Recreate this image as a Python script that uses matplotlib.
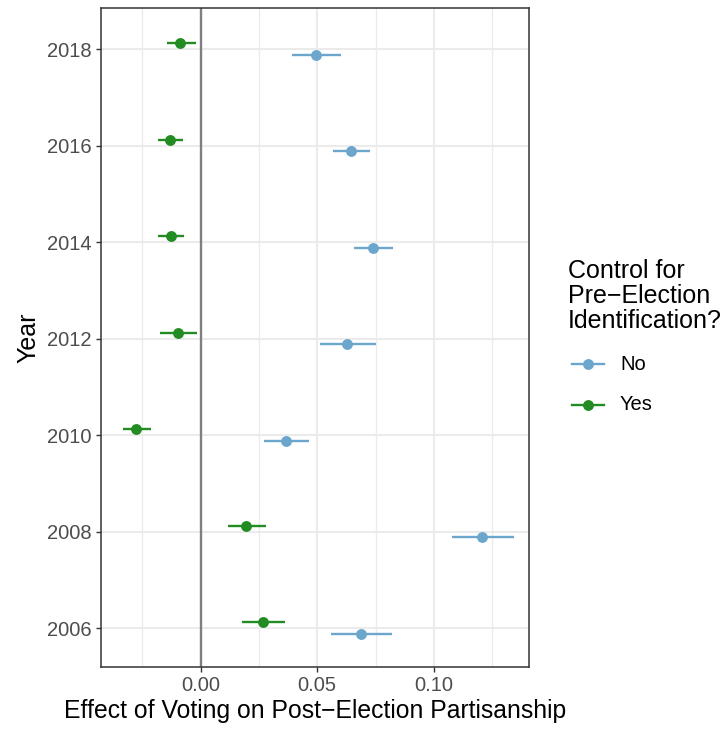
import numpy as np
import matplotlib
matplotlib.use("Agg")
import matplotlib.pyplot as plt
from matplotlib.lines import Line2D

plt.rcParams['font.family'] = ['Liberation Sans', 'DejaVu Sans']

years = ['2006', '2008', '2010', '2012', '2014', '2016', '2018']

# estimates with pre-election identification control ("Yes")
yes_est = [0.0267, 0.0196, -0.0276, -0.0096, -0.0129, -0.0132, -0.0087]
yes_lo = [0.0176, 0.0116, -0.0334, -0.0173, -0.0181, -0.0181, -0.0146]
yes_hi = [0.0361, 0.0282, -0.0213, -0.0014, -0.0070, -0.0076, -0.0021]

# estimates without the control ("No")
no_est = [0.0689, 0.1207, 0.0366, 0.0629, 0.0740, 0.0644, 0.0496]
no_lo = [0.0557, 0.1080, 0.0271, 0.0511, 0.0659, 0.0566, 0.0390]
no_hi = [0.0822, 0.1342, 0.0466, 0.0750, 0.0824, 0.0727, 0.0604]

col_no = '#6CA6CD'
col_yes = '#228B22'

fig = plt.figure(figsize=(7.25, 7.31), dpi=100)
ax = fig.add_axes([101 / 725, 1 - 667 / 731, 428 / 725, 659 / 731])

pos = np.arange(len(years))
dodge = 0.062

ax.axvline(0, color='#7F7F7F', lw=1.7, zorder=2)

for est, lo, hi, col, off in [(no_est, no_lo, no_hi, col_no, -dodge),
                              (yes_est, yes_lo, yes_hi, col_yes, dodge)]:
    y = pos + off
    ax.hlines(y, lo, hi, color=col, lw=1.7, zorder=3)
    ax.plot(est, y, 'o', color=col, ms=6.8, zorder=4)

ax.set_xlim(-0.0427, 0.1408)
ax.set_ylim(-0.404, 6.425)
ax.set_xticks([0.0, 0.05, 0.10])
ax.set_xticklabels(['0.00', '0.05', '0.10'])
ax.set_xticks([-0.025, 0.025, 0.075, 0.125], minor=True)
ax.set_yticks(pos)
ax.set_yticklabels(years)

ax.grid(True, which='major', color='#EBEBEB', lw=1.5, zorder=0)
ax.grid(True, which='minor', axis='x', color='#EBEBEB', lw=0.9, zorder=0)
ax.set_axisbelow(True)
ax.tick_params(which='major', length=3.5, width=1, color='#333333',
               labelcolor='#4D4D4D', labelsize=14.5, pad=3)
ax.tick_params(which='minor', length=0)
for s in ax.spines.values():
    s.set_color('#333333')
    s.set_linewidth(1.1)

ax.set_xlabel('Effect of Voting on Post\u2212Election Partisanship', fontsize=17.8, labelpad=3)
ax.set_ylabel('Year', fontsize=18, labelpad=5)

# legend
fig.text(568 / 725, 1 - 296 / 731, 'Control for\nPre\u2212Election\nIdentification?',
         fontsize=18, va='center', ha='left', linespacing=1.03)
for ypx, col, lab in [(364, col_no, 'No'), (405, col_yes, 'Yes')]:
    yf = 1 - ypx / 731
    fig.add_artist(Line2D([572 / 725, 604 / 725], [yf, yf], color=col, lw=1.7,
                          transform=fig.transFigure))
    fig.add_artist(Line2D([588 / 725], [yf], marker='o', color=col, ms=6.8,
                          transform=fig.transFigure))
    fig.text(620 / 725, yf, lab, fontsize=14.5, va='center', ha='left')

fig.savefig('out.png', dpi=100)
